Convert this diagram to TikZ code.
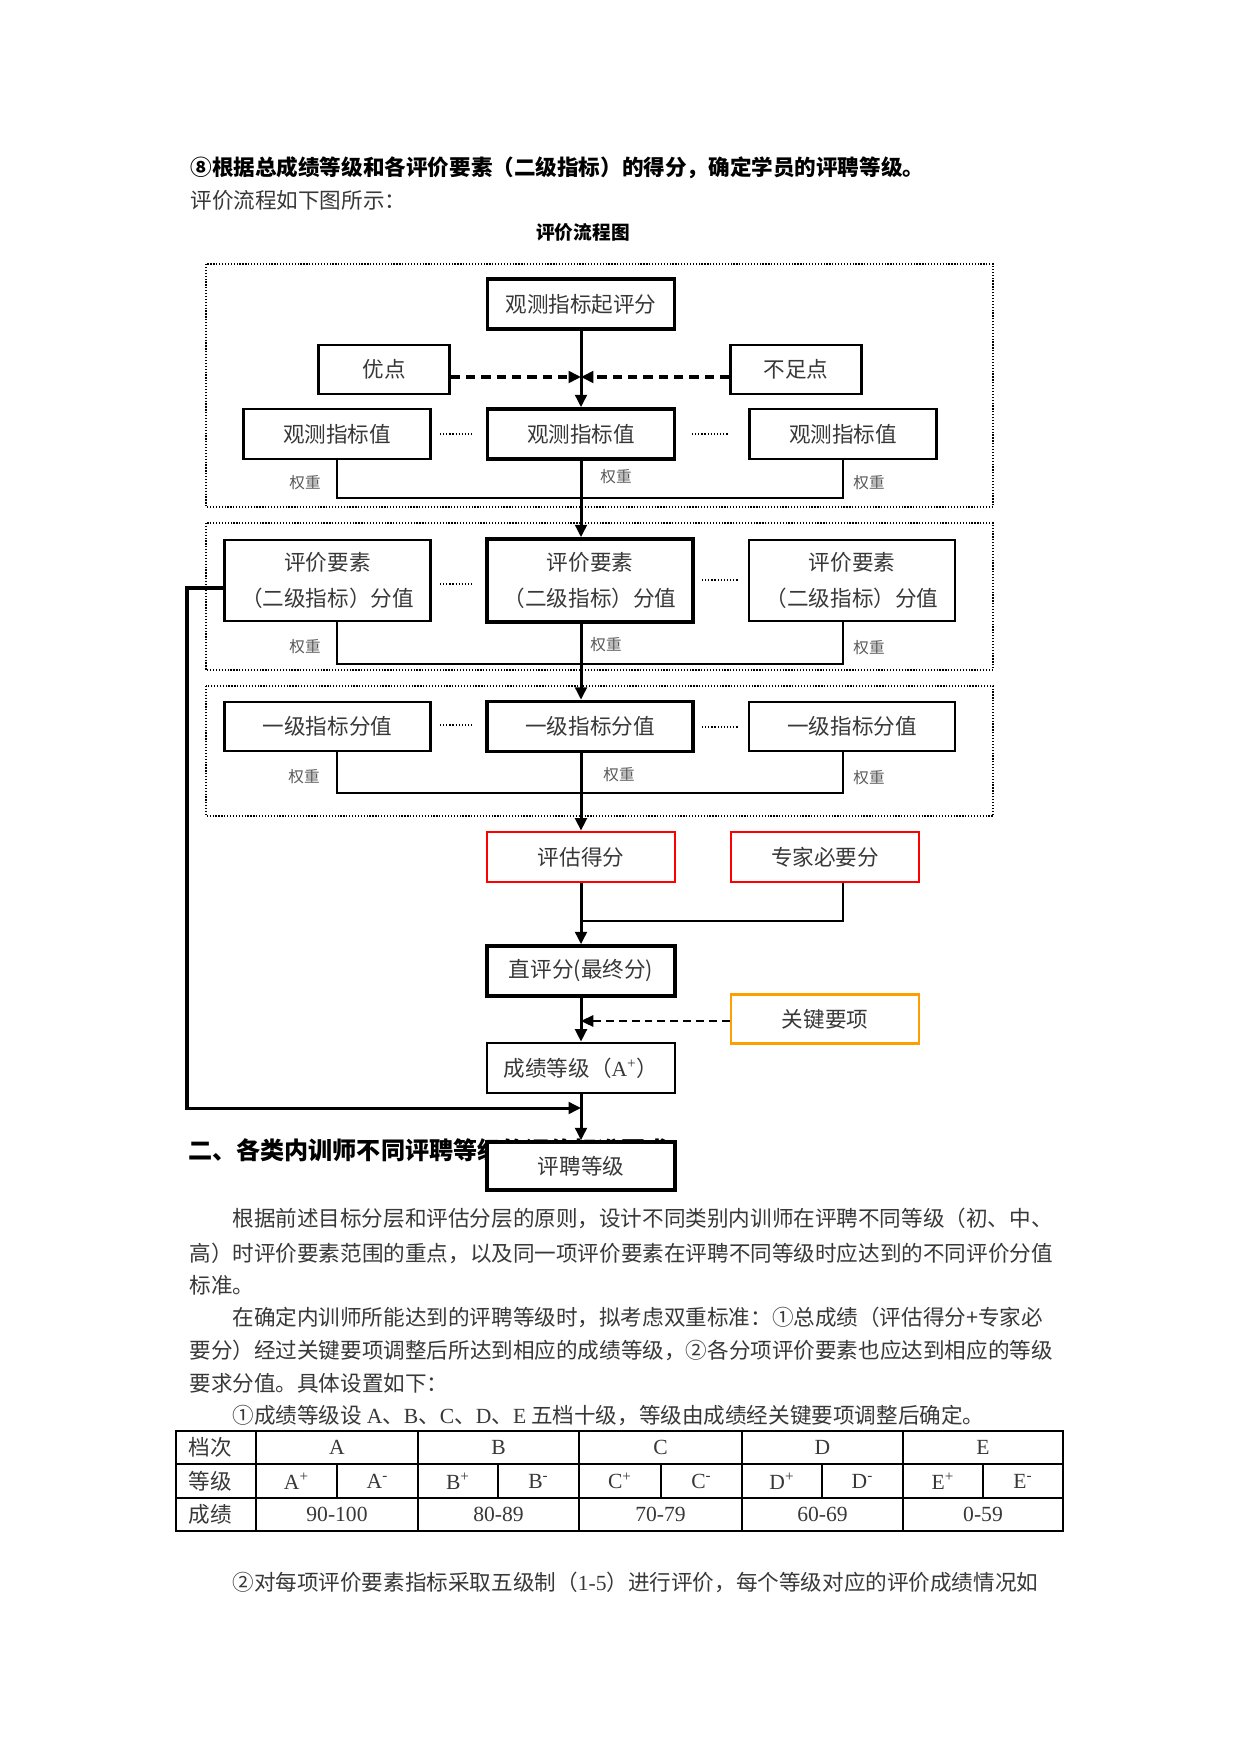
\documentclass[tikz,border=0pt]{standalone}
\usepackage{fontspec}
\setmainfont{Liberation Serif}
\newfontfamily\cjk{Noto Sans CJK SC}
\usetikzlibrary{arrows.meta,calc}
\definecolor{txt}{gray}{0.22}
\definecolor{wtc}{gray}{0.35}
\definecolor{orng}{HTML}{FF9E00}
\def\pxu{0.4818pt}
\tikzset{
  base/.style={inner sep=0pt, font=\cjk\fontsize{10.4}{12.5}\selectfont, text=txt, align=center},
  sz/.style 2 args={minimum width=#1*\pxu, minimum height=#2*\pxu},
  thinbox/.style={base, draw, line width=1pt},
  thickbox/.style={base, draw, line width=1.7pt},
  midbox/.style={base, draw, line width=1.3pt},
  redbox/.style={base, draw=red, line width=1.35pt},
  orgbox/.style={base, draw=orng, line width=1.35pt},
  conn/.style={line width=1.45pt},
  arr/.style={conn, -{Triangle[length=6pt,width=5.6pt]}},
  wline/.style={line width=0.75pt},
  dsh/.style={line width=1.75pt, dash pattern=on 4.5pt off 2.9pt, -{Triangle[length=6pt,width=5.6pt]}},
  dsh2/.style={line width=0.8pt, dash pattern=on 3.8pt off 2.4pt, -{Triangle[length=6pt,width=5.6pt]}},
  frm/.style={line width=0.5pt, dash pattern=on 0.6pt off 0.8pt},
  dotsl/.style={line width=0.6pt, dash pattern=on 0.6pt off 0.9pt},
  wt/.style={inner sep=0pt, font=\cjk\fontsize{7.5}{9}\selectfont, text=wtc},
  body/.style={inner sep=0pt, anchor=base west, font=\cjk\fontsize{10.4}{12.5}\selectfont, text=txt},
  cell/.style={inner sep=0pt, font=\cjk\fontsize{10.4}{12.5}\selectfont, text=txt},
  lcell/.style={inner sep=0pt, font=\rmfamily\fontsize{10.4}{12.5}\selectfont, text=txt},
  tline/.style={line width=0.75pt},
}
\begin{document}
\begin{tikzpicture}[x=0.4818pt, y=-0.4818pt]
\useasboundingbox[fill=white] (0,0) rectangle (1241,1754);

% ---------- header texts ----------
\node[body, font=\cjk\bfseries\fontsize{10.4}{12.5}\selectfont, text=black] (h1) at (190,176)
  {⑧根据总成绩等级和各评价要素（二级指标）的得分，确定学员的评聘等级。};
\node[body] (h1b) at (190,209) {评价流程如下图所示：};
\node[inner sep=0pt, anchor=base, font=\cjk\bfseries\fontsize{9}{11}\selectfont] (title) at (583,240) {评价流程图};

% ---------- dotted frames ----------
\draw[frm] (206,264) rectangle (993,507);
\draw[frm] (206,523) rectangle (993,670);
\draw[frm] (206,686) rectangle (993,816);

% ---------- heading 2 (partly hidden by the last box, as in the original) ----------
\node[body, font=\cjk\bfseries\fontsize{11.6}{14}\selectfont, text=black] (h2) at (188,1159)
  {二、各类内训师不同评聘等级的评价标准要求};

% ---------- row 1 ----------
\node[thickbox, sz={187}{50}] (top) at (581,304) {观测指标起评分};
\node[thinbox, sz={131}{49}] (youdian) at (384,369.5) {优点};
\node[thinbox, sz={131}{49}] (buzu) at (796,369.5) {不足点};
\node[thinbox, sz={187}{50}] (gcL) at (337,434) {观测指标值};
\node[thickbox, sz={187}{50}] (gcC) at (581,434) {观测指标值};
\node[thinbox, sz={187}{50}] (gcR) at (843,434) {观测指标值};

% ---------- row 2 ----------
\node[thinbox, sz={206}{81}] (pjL) at (327.5,580.5) {评价要素\\[5pt]（二级指标）分值};
\node[thickbox, sz={206}{83}] (pjC) at (590,580.5) {评价要素\\[5pt]（二级指标）分值};
\node[thinbox, sz={206}{81}] (pjR) at (852,580.5) {评价要素\\[5pt]（二级指标）分值};

% ---------- row 3 ----------
\node[thinbox, sz={206}{49}] (yjL) at (327.5,726.5) {一级指标分值};
\node[thickbox, sz={206}{50}] (yjC) at (590,726.5) {一级指标分值};
\node[thinbox, sz={206}{49}] (yjR) at (852,726.5) {一级指标分值};

% ---------- lower flow ----------
\node[redbox, sz={188}{50}] (pg) at (581,857) {评估得分};
\node[redbox, sz={188}{50}] (zj) at (825,857) {专家必要分};
\node[thickbox, sz={188}{50}] (zp) at (581,971) {直评分(最终分)};
\node[orgbox, sz={188}{49}] (gj) at (825,1019) {关键要项};
\node[midbox, sz={188}{50}] (cj) at (581,1068) {成绩等级（{\rmfamily A\textsuperscript{+}}）};
\node[thickbox, fill=white, sz={188}{48}] (pp) at (581,1166) {评聘等级};

% ---------- 权重 labels ----------
\node[wt] (w1L) at (305,483) {权重};
\node[wt] (w1C) at (616,477) {权重};
\node[wt] (w1R) at (869,483) {权重};
\node[wt] (w2L) at (305,647) {权重};
\node[wt] (w2C) at (606,645) {权重};
\node[wt] (w2R) at (869,648) {权重};
\node[wt] (w3L) at (304,777) {权重};
\node[wt] (w3C) at (619,775) {权重};
\node[wt] (w3R) at (869,778) {权重};

% ---------- dots between boxes ----------
\draw[dotsl] (440,434) -- (474,434);
\draw[dotsl] (692,434) -- (729,434);
\draw[dotsl] (440,584) -- (474,584);
\draw[dotsl] (702,580) -- (738,580);
\draw[dotsl] (440,725) -- (474,725);
\draw[dotsl] (702,727) -- (738,727);

% ---------- coordinates ----------
\coordinate (m1) at (581,377);
\coordinate (wy1) at (0,498);
\coordinate (wy2) at (0,664);
\coordinate (wy3) at (0,793);
\coordinate (j1) at (581,921);
\coordinate (m2) at (581,1021);
\coordinate (lc) at (187,1108);
\coordinate (m3) at (581,1108);

% ---------- connectors ----------
\draw[arr] (top) -- (gcC);
\draw[dsh] (youdian.east |- m1) -- (m1);
\draw[dsh] (buzu.west |- m1) -- (m1);

\draw[wline] (gcL.south) |- (wy1 -| gcR.south) -- (gcR.south);
\draw[arr] (gcC.south) -- (gcC.south |- pjC.north);

\draw[wline] (pjL.south -| gcL.south) |- (wy2 -| gcR.south) -- (pjR.south -| gcR.south);
\draw[arr] (gcC.south |- pjC.south) -- (gcC.south |- yjC.north);

\draw[wline, line width=0.95pt] (yjL.south -| gcL.south) |- (wy3 -| gcR.south) -- (yjR.south -| gcR.south);
\draw[arr] (gcC.south |- yjC.south) -- (pg.north);

\draw[arr] (pg) -- (zp);
\draw[conn, line width=1.3pt] (zj.south -| gcR.south) |- (j1);
\draw[arr] (zp) -- (cj);
\draw[dsh2] (gj.west |- m2) -- (m2);
\draw[arr] (cj) -- (pp);
\draw[arr] ($(pjL.west)+(0,7.5)$) -| (lc) -- (m3);

% ---------- body text ----------
\node[body] (p1a) at (232,1226) {根据前述目标分层和评估分层的原则，设计不同类别内训师在评聘不同等级（初、中、};
\node[body] (p1b) at (189,1261) {高）时评价要素范围的重点，以及同一项评价要素在评聘不同等级时应达到的不同评价分值};
\node[body] (p1c) at (189,1293) {标准。};
\node[body] (p2a) at (232,1325) {在确定内训师所能达到的评聘等级时，拟考虑双重标准：①总成绩（评估得分+专家必};
\node[body] (p2b) at (189,1358) {要分）经过关键要项调整后所达到相应的成绩等级，②各分项评价要素也应达到相应的等级};
\node[body] (p2c) at (189,1391) {要求分值。具体设置如下：};
\node[body] (p3) at (232,1423) {①成绩等级设 {\rmfamily A}、{\rmfamily B}、{\rmfamily C}、{\rmfamily D}、{\rmfamily E} 五档十级，等级由成绩经关键要项调整后确定。};
\node[body] (p4) at (232,1590) {②对每项评价要素指标采取五级制（{\rmfamily 1-5}）进行评价，每个等级对应的评价成绩情况如};

% ---------- table ----------
\draw[tline] (176,1431) rectangle (1063,1531);
\draw[line width=1.4pt] (176,1431) -- (1063,1431);
\draw[tline] (176,1464) -- (1063,1464);
\draw[tline] (176,1498) -- (1063,1498);
\foreach \cx in {256,418,579,742,903} \draw[tline] (\cx,1431) -- (\cx,1531);
\foreach \cx in {337,498,661,822,983} \draw[tline] (\cx,1464) -- (\cx,1498);

\node[cell, anchor=west] (r1) at (188,1447.5) {档次};
\node[cell, anchor=west] (r2) at (188,1481) {等级};
\node[cell, anchor=west] (r3) at (188,1514.5) {成绩};

\node[lcell] (cA) at (337,1447.5) {A};
\node[lcell] (cB) at (498.5,1447.5) {B};
\node[lcell] (cC) at (660.5,1447.5) {C};
\node[lcell] (cD) at (822.5,1447.5) {D};
\node[lcell] (cE) at (983,1447.5) {E};

\node[lcell] (gA1) at (296.5,1481) {A\textsuperscript{+}};
\node[lcell] (gA2) at (377.5,1481) {A\textsuperscript{-}};
\node[lcell] (gB1) at (458,1481) {B\textsuperscript{+}};
\node[lcell] (gB2) at (538.5,1481) {B\textsuperscript{-}};
\node[lcell] (gC1) at (620,1481) {C\textsuperscript{+}};
\node[lcell] (gC2) at (701.5,1481) {C\textsuperscript{-}};
\node[lcell] (gD1) at (782,1481) {D\textsuperscript{+}};
\node[lcell] (gD2) at (862.5,1481) {D\textsuperscript{-}};
\node[lcell] (gE1) at (943,1481) {E\textsuperscript{+}};
\node[lcell] (gE2) at (1023,1481) {E\textsuperscript{-}};

\node[lcell] (sA) at (337,1514.5) {90-100};
\node[lcell] (sB) at (498.5,1514.5) {80-89};
\node[lcell] (sC) at (660.5,1514.5) {70-79};
\node[lcell] (sD) at (822.5,1514.5) {60-69};
\node[lcell] (sE) at (983,1514.5) {0-59};
\end{tikzpicture}
\end{document}
